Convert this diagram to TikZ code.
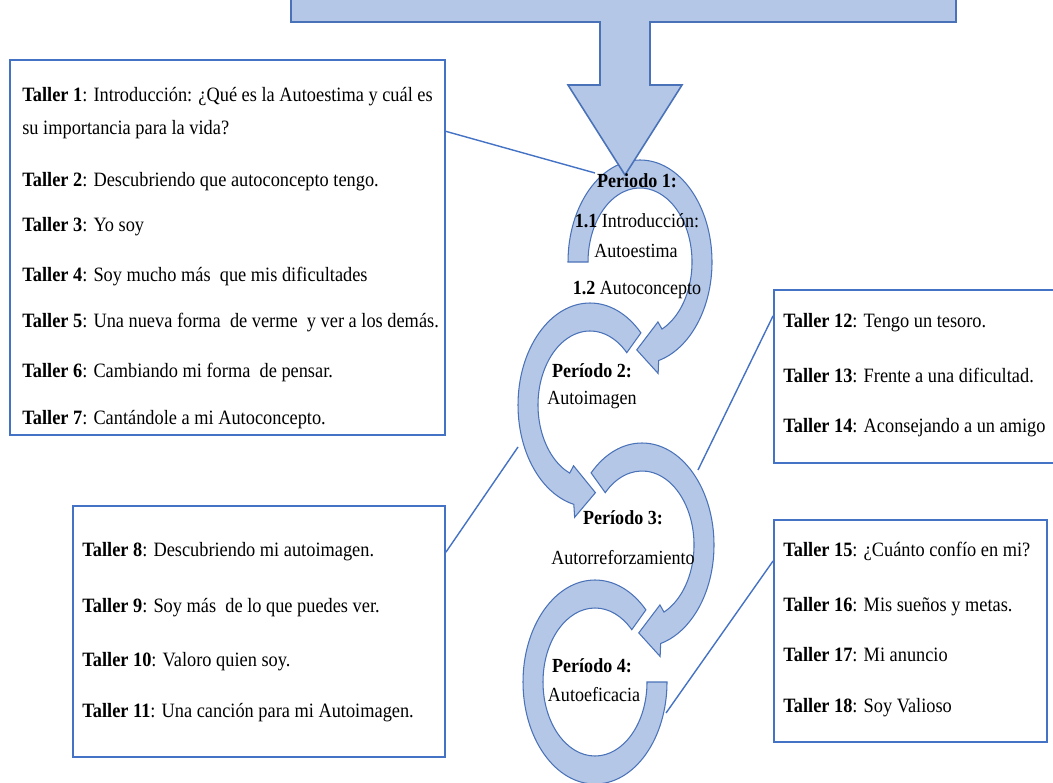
\documentclass[tikz,border=0pt]{standalone}
\usepackage{fontspec}
\setmainfont[FakeStretch=0.9]{Liberation Serif}
\usepackage{tikz}
\usetikzlibrary{positioning}
\definecolor{ringfill}{HTML}{B4C7E7}
\definecolor{ringline}{HTML}{4A72B8}
\definecolor{boxline}{HTML}{4472C4}

\begin{document}
\begin{tikzpicture}[x=0.02cm,y=0.02cm,
    ring/.style = {draw=ringline, fill=ringfill, line width=0.6pt},
    bigarrow/.style = {draw=ringline, fill=ringfill, line width=0.9pt},
    box/.style = {draw=boxline, fill=white, line width=1.1pt, inner sep=0pt},
    link/.style = {draw=boxline, line width=0.8pt},
    txt/.style = {anchor=west, inner sep=0pt, text height=8pt, text depth=2.5pt, font=\fontsize{11.6}{13}\selectfont},
    lab/.style = {inner sep=0pt, text height=8pt, text depth=2.5pt, font=\fontsize{11.4}{13}\selectfont}]
\useasboundingbox (0,0) rectangle (1053,782);

    \node[box, minimum width=8.7cm, minimum height=7.5cm] (box1) at (227.5,534.5) {};
    \node[box, minimum width=7.44cm, minimum height=5.02cm] (box2) at (259,150.5) {};
    \node[box, minimum width=5.68cm, minimum height=3.46cm] (box3) at (916,405.5) {};
    \node[box, minimum width=5.46cm, minimum height=4.44cm] (box4) at (910.5,151) {};

    \coordinate (e1) at (595,609);
    \coordinate (e2) at (518,335);
    \coordinate (e3) at (698,312);
    \coordinate (e4) at (666,69);
    \draw[link] (box1.28.8) -- (e1);
    \draw[link] (box2.23.7) -- (e2);
    \draw[link] (box3.157.6) -- (e3);
    \draw[link] (box4.153.2) -- (e4);

\begin{scope}[shift={(595,100)}]
    \draw[ring] (45:72 and 102) arc[start angle=45, end angle=360, x radius=72, y radius=102]
        -- (360:52 and 74) arc[start angle=360, end angle=45, x radius=52, y radius=74] -- cycle;
\end{scope}
\begin{scope}[shift={(642,237)}]
    \draw[ring] (135:72 and 102) arc[start angle=135, end angle=-75, x radius=72, y radius=102]
        -- (-77:80.6 and 114.4) -- (-93:62 and 88) -- (-67:45.9 and 65.1) -- (-65:52 and 74)
        arc[start angle=-65, end angle=135, x radius=52, y radius=74] -- cycle;
\end{scope}
\begin{scope}[shift={(590,377)}]
    \draw[ring] (45:72 and 102) arc[start angle=45, end angle=257, x radius=72, y radius=102]
        -- (259:80.6 and 114.4) -- (275:62 and 88) -- (249:45.9 and 65.1) -- (247:52 and 74)
        arc[start angle=247, end angle=45, x radius=52, y radius=74] -- cycle;
\end{scope}
\begin{scope}[shift={(640,520)}]
    \draw[ring] (180:72 and 102) arc[start angle=180, end angle=-75, x radius=72, y radius=102]
        -- (-77:80.6 and 114.4) -- (-93:62 and 88) -- (-67:45.9 and 65.1) -- (-65:52 and 74)
        arc[start angle=-65, end angle=180, x radius=52, y radius=74] -- cycle;
\end{scope}

    \draw[bigarrow] (291,784) -- (956,784) -- (956,760) -- (650,760) -- (650,697) -- (682,697)
        -- (625,607) -- (568,697) -- (600,697) -- (600,760) -- (291,760) -- cycle;

    \node[txt] (t1) at (22,685) {\textbf{Taller 1}: Introducción: ¿Qué es la Autoestima y cuál es};
    \node[txt] (t1b) at (22,652) {su importancia para la vida?};
    \node[txt] (t2) at (22,600) {\textbf{Taller 2}: Descubriendo que autoconcepto tengo.};
    \node[txt] (t3) at (22,555) {\textbf{Taller 3}: Yo soy};
    \node[txt] (t4) at (22,505) {\textbf{Taller 4}: Soy mucho más~ que mis dificultades};
    \node[txt] (t5) at (22,459) {\textbf{Taller 5}: Una nueva forma~ de verme~ y ver a los demás.};
    \node[txt] (t6) at (22,409) {\textbf{Taller 6}: Cambiando mi forma~ de pensar.};
    \node[txt] (t7) at (22,362) {\textbf{Taller 7}: Cantándole a mi Autoconcepto.};

    \node[txt] (t8) at (82,230) {\textbf{Taller 8}: Descubriendo mi autoimagen.};
    \node[txt] (t9) at (82,174) {\textbf{Taller 9}: Soy más~ de lo que puedes ver.};
    \node[txt] (t10) at (82,120) {\textbf{Taller 10}: Valoro quien soy.};
    \node[txt] (t11) at (82,69) {\textbf{Taller 11}: Una canción para mi Autoimagen.};

    \node[txt] (t12) at (783,459) {\textbf{Taller 12}: Tengo un tesoro.};
    \node[txt] (t13) at (783,404) {\textbf{Taller 13}: Frente a una dificultad.};
    \node[txt] (t14) at (783,354) {\textbf{Taller 14}: Aconsejando a un amigo};

    \node[txt] (t15) at (783,230) {\textbf{Taller 15}: ¿Cuánto confío en mi?};
    \node[txt] (t16) at (783,175) {\textbf{Taller 16}: Mis sueños y metas.};
    \node[txt] (t17) at (783,125) {\textbf{Taller 17}: Mi anuncio};
    \node[txt] (t18) at (783,74) {\textbf{Taller 18}: Soy Valioso};

    \node[lab] (p1) at (637,599) {\textbf{Periodo 1:}};
    \node[lab] (p1a) at (637,559) {\textbf{1.1} Introducción:};
    \node[lab] (p1b) at (636,529) {Autoestima};
    \node[lab] (p1c) at (637,492) {\textbf{1.2} Autoconcepto};
    \node[lab] (p2) at (592,409) {\textbf{Período 2:}};
    \node[lab] (p2a) at (592,382) {Autoimagen};
    \node[lab] (p3) at (623,262) {\textbf{Período 3:}};
    \node[lab] (p3a) at (623,222) {Autorreforzamiento};
    \node[lab] (p4) at (592,114) {\textbf{Período 4:}};
    \node[lab] (p4a) at (594,85) {Autoeficacia};
\end{tikzpicture}
\end{document}
